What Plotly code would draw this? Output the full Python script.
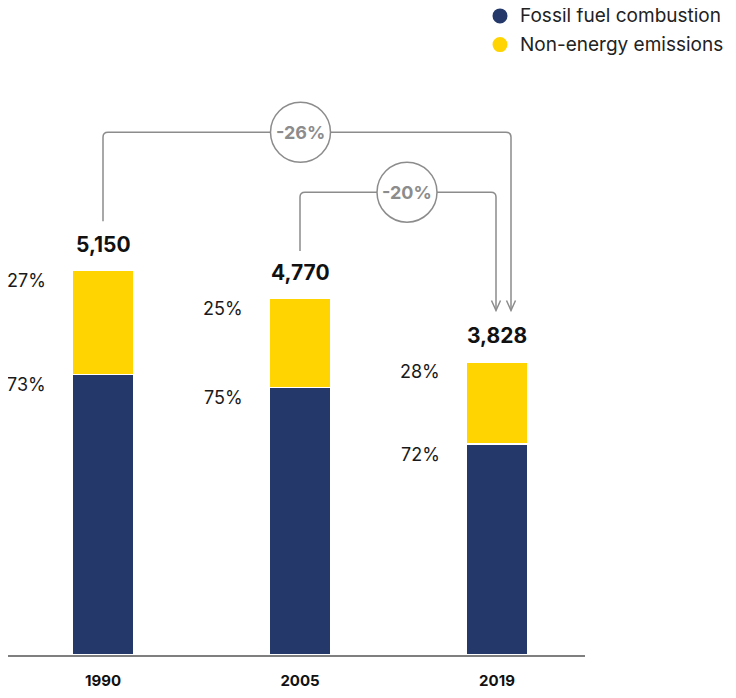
import plotly.graph_objects as go

# ---------------- data ----------------
years = ["1990", "2005", "2019"]
fossil = [3750, 3577, 2820]          # Fossil fuel combustion (bar segment)
non_energy = [1400, 1193, 1100]      # Non-energy emissions (bar segment)
total_labels = ["5,150", "4,770", "3,828"]
fossil_share = ["73%", "75%", "72%"]
non_energy_share = ["27%", "25%", "28%"]
change_labels = ["-26%", "-20%"]
series_names = ["Fossil fuel combustion", "Non-energy emissions"]

NAVY = "#24396a"
YELLOW = "#ffd400"
GREY = "#8c8c8c"

# ---------------- layout constants (screen pixels of the reference) ----------------
OFF = 8                      # html body margin; the figure is drawn at (8, 8)
W, H = 736 - OFF, 698 - 2 * OFF
AXIS_LEFT, AXIS_RIGHT, BASE, TOP = 8, 585, 661, 57
ML = AXIS_LEFT - OFF
MR = W - (AXIS_RIGHT - OFF)
MT = TOP - OFF
MB = H - (BASE - OFF)
PX_PER_X = 197.0
CENTER0 = 103                                   # screen px of first bar centre
X_RANGE = [-(CENTER0 - AXIS_LEFT) / PX_PER_X, 2 + (AXIS_RIGHT - 497) / PX_PER_X]
Y_RANGE = [0, 8000]
plot_w = W - ML - MR
plot_h = H - MT - MB
u_per_px = (Y_RANGE[1] - Y_RANGE[0]) / plot_h


def xd(px):  # screen px -> data x
    return X_RANGE[0] + (px - AXIS_LEFT) / PX_PER_X


def yd(py):  # screen px -> data y
    return (BASE - py) * u_per_px


def dx(p):
    return p / PX_PER_X


def dy(p):
    return p * u_per_px


xs = list(range(len(years)))
totals = [f + n for f, n in zip(fossil, non_energy)]

fig = go.Figure()
fig.add_trace(go.Bar(x=xs, y=fossil, name=series_names[0], marker_color=NAVY,
                     marker_line_color="white", marker_line_width=1.5,
                     width=0.31, showlegend=False, hoverinfo="skip"))
fig.add_trace(go.Bar(x=xs, y=non_energy, name=series_names[1], marker_color=YELLOW,
                     marker_line_color="white", marker_line_width=1.5,
                     width=0.31, showlegend=False, hoverinfo="skip"))

ann = []
for i in xs:
    ann.append(dict(x=i, y=totals[i], text=f"<b>{total_labels[i]}</b>", showarrow=False,
                    xanchor="center", yanchor="middle", yshift=26,
                    font=dict(size=21, color="#111111")))
    ann.append(dict(x=i, y=totals[i], text=non_energy_share[i], showarrow=False,
                    xanchor="right", yanchor="middle", xshift=-55, yshift=-10,
                    font=dict(size=18, color="#1a1a1a")))
    ann.append(dict(x=i, y=fossil[i], text=fossil_share[i], showarrow=False,
                    xanchor="right", yanchor="middle", xshift=-55, yshift=-10,
                    font=dict(size=18, color="#1a1a1a")))

shapes = []
r_x, r_y = dx(5), dy(5)


def connector(x_start, y_start, y_top, x_end, y_tip):
    path = (f"M {x_start} {y_start} L {x_start} {y_top - r_y} "
            f"Q {x_start} {y_top} {x_start + r_x} {y_top} "
            f"L {x_end - r_x} {y_top} Q {x_end} {y_top} {x_end} {y_top - r_y} "
            f"L {x_end} {y_tip}")
    head = (f"M {x_end - dx(4.5)} {y_tip + dy(10)} L {x_end} {y_tip} "
            f"L {x_end + dx(4.5)} {y_tip + dy(10)}")
    for p in (path, head):
        shapes.append(dict(type="path", path=p, xref="x", yref="y",
                           line=dict(color=GREY, width=1.5), layer="above"))


# -26% : 1990 -> 2019
connector(0, yd(223), yd(133), xd(511), yd(313))
# -20% : 2005 -> 2019
connector(1, yd(253), yd(193.5), xd(496), yd(313))

for cx, cy, label in [(xd(300.5), yd(133), change_labels[0]),
                      (xd(407), yd(193.5), change_labels[1])]:
    shapes.append(dict(type="circle", xref="x", yref="y", xsizemode="pixel",
                       ysizemode="pixel", xanchor=cx, yanchor=cy,
                       x0=-30, x1=30, y0=-30, y1=30,
                       fillcolor="white", line=dict(color=GREY, width=1.5),
                       layer="above"))
    ann.append(dict(x=cx, y=cy, text=f"<b>{label}</b>", showarrow=False,
                    xanchor="center", yanchor="middle",
                    font=dict(size=18, color=GREY)))


# legend (manual)
def px_to_paper_x(px):
    return (px - AXIS_LEFT) / plot_w


def py_to_paper_y(py):
    return (BASE - py) / plot_h


for name, col, py in [(series_names[0], NAVY, 15.5), (series_names[1], YELLOW, 44.5)]:
    shapes.append(dict(type="circle", xref="paper", yref="paper", xsizemode="pixel",
                       ysizemode="pixel", xanchor=px_to_paper_x(500),
                       yanchor=py_to_paper_y(py), x0=-7.5, x1=7.5, y0=-7.5, y1=7.5,
                       fillcolor=col, line=dict(width=0)))
    ann.append(dict(xref="paper", yref="paper", x=px_to_paper_x(518),
                    y=py_to_paper_y(py), text=name, showarrow=False,
                    xanchor="left", yanchor="middle",
                    font=dict(size=19, color="#222222")))

fig.update_layout(
    width=W, height=H, barmode="stack",
    margin=dict(l=ML, r=MR, t=MT, b=MB),
    paper_bgcolor="white", plot_bgcolor="white",
    font=dict(family="Inter, Roboto, sans-serif", color="#111111"),
    xaxis=dict(range=X_RANGE, tickvals=xs, ticktext=[f"<b>{y}</b>" for y in years],
               showgrid=False, zeroline=False, showline=True, linecolor="#7f7f7f",
               linewidth=2, ticks="", tickfont=dict(size=15, color="#111111"),
               ticklabelstandoff=11, fixedrange=True),
    yaxis=dict(range=Y_RANGE, visible=False, fixedrange=True),
    annotations=ann, shapes=shapes, showlegend=False,
)

fig.write_html("out.html")
